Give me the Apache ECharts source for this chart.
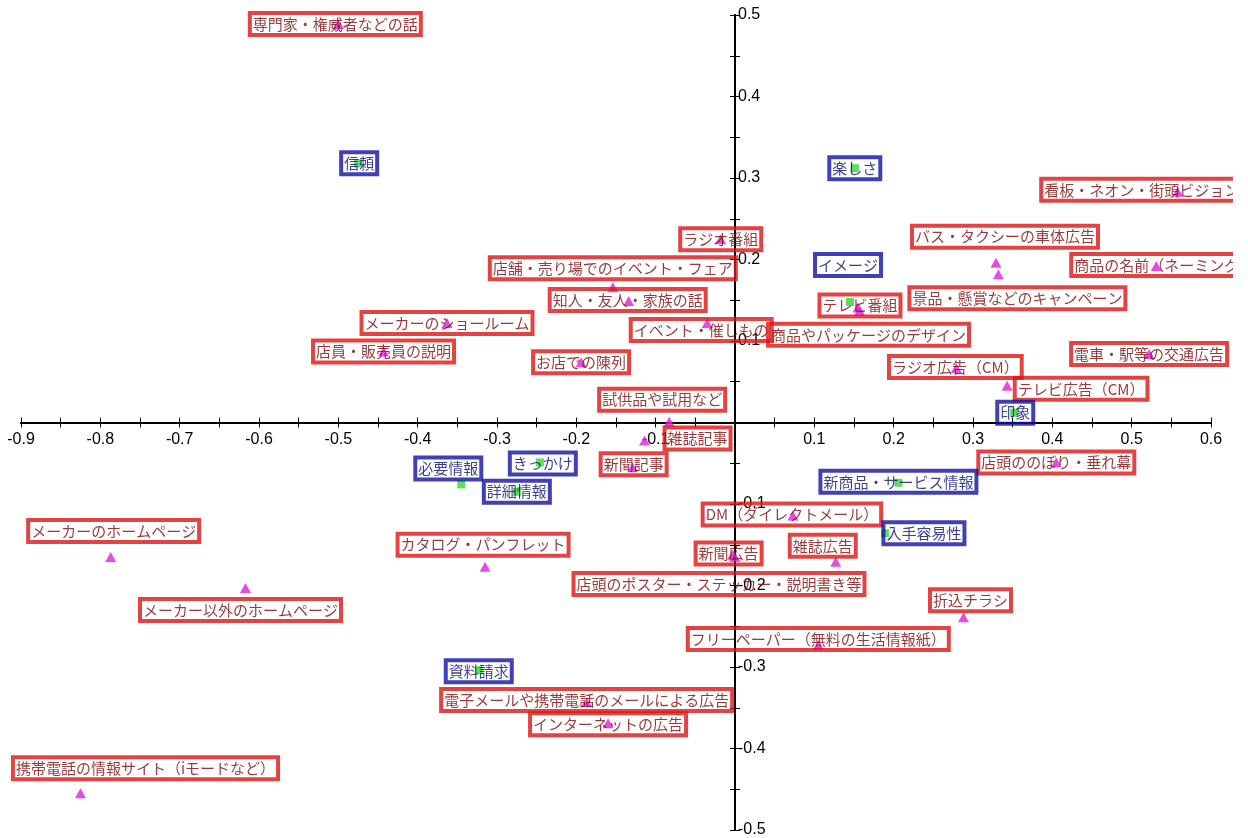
<!DOCTYPE html>
<html>
<head>
<meta charset="utf-8">
<script src="https://cdn.jsdelivr.net/npm/echarts@6/dist/echarts.min.js"></script>
<style>
html,body{margin:0;padding:0;background:#fff;}
#chart{width:1233px;height:838px;overflow:hidden;}
</style>
</head>
<body>
<div id="chart"></div>
<script>
// ---- data: media (magenta triangles) ----
const mediaNames = [
  '専門家・権威者などの話','ラジオ番組','店舗・売り場でのイベント・フェア','知人・友人・家族の話',
  'メーカーのショールーム','店員・販売員の説明','イベント・催しもの','お店での陳列',
  '試供品や試用など','雑誌記事','新聞記事','看板・ネオン・街頭ビジョン等の広告',
  'バス・タクシーの車体広告','景品・懸賞などのキャンペーン','商品の名前（ネーミング）','テレビ番組',
  '商品やパッケージのデザイン','ラジオ広告（CM）','テレビ広告（CM）','電車・駅等の交通広告',
  '店頭ののぼり・垂れ幕','DM（ダイレクトメール）','雑誌広告','新聞広告',
  '店頭のポスター・ステッカー・説明書き等','折込チラシ','フリーペーパー（無料の生活情報紙）','カタログ・パンフレット',
  'メーカーのホームページ','メーカー以外のホームページ','携帯電話の情報サイト（iモードなど）',
  '電子メールや携帯電話のメールによる広告','インターネットの広告'
];
const mediaX = [
  -0.500,-0.018,-0.154,-0.134,
  -0.363,-0.443,-0.035,-0.194,
  -0.083,-0.114,-0.129,0.558,
  0.329,0.332,0.531,0.155,
  0.157,0.279,0.343,0.522,
  0.405,0.073,0.127,-0.003,
  0.000,0.288,0.105,-0.315,
  -0.787,-0.617,-0.825,
  -0.187,-0.160
];
const mediaY = [
  0.489,0.225,0.166,0.149,
  0.122,0.087,0.122,0.074,
  0.001,-0.022,-0.055,0.283,
  0.196,0.182,0.192,0.141,
  0.137,0.067,0.045,0.084,
  -0.049,-0.114,-0.171,-0.162,
  -0.165,-0.239,-0.273,-0.177,
  -0.165,-0.203,-0.455,
  -0.343,-0.369
];
// ---- data: attributes (green squares) ----
const attrNames = ['信頼','楽しさ','イメージ','印象','新商品・サービス情報','入手容易性','必要情報','きっかけ','詳細情報','資料請求'];
const attrX = [-0.475,0.151,0.145,0.352,0.206,0.189,-0.345,-0.246,-0.275,-0.323];
const attrY = [0.318,0.312,0.148,0.012,-0.074,-0.136,-0.076,-0.049,-0.085,-0.304];

// ---- axis ticks ----
const xMin = -0.9, xMax = 0.6, yMin = -0.5, yMax = 0.5, tickStep = 0.1;

// ---- layout only: label offsets (px) relative to each point ----
const mediaLabelOffset = [
  [-3,0],[0,0],[0,-19],[-1,-1],
  [0,0],[0,0],[-6,7],[0,0],
  [-7,-22],[53,-2],[1,-3],[-6,-2],
  [9,-26],[19,24],[8,-1],[2,-2],
  [9,24],[-1,-1],[74,3],[0,0],
  [0,0],[-1,-1],[-13,-16],[-4,-1],
  [-16,27],[7,-17],[0,-6],[-2,-22],
  [3,-26],[-5,22],[65,-25],
  [0,-2],[0,1]
];
const attrLabelOffset = [[1,0],[0,0],[-2,-37],[1,0],[0,-1],[39,0],[-13,-16],[3,1],[0,0],[0,1]];

// ---- layout ----
const W = 1233, H = 838;
const G = {left:21, right:22, top:15, bottom:8};
const plotW = W - G.left - G.right, plotH = H - G.top - G.bottom;
// shift the labelled axes from the grid edge onto the zero lines
const xAxisShift = -plotH * (0 - yMin) / (yMax - yMin);
const yAxisShift = -plotW * (xMax - 0) / (xMax - xMin);

const chart = echarts.init(document.getElementById('chart'), null, {renderer:'canvas'});

function fmt(v){ if (Math.abs(v) < 1e-9) return ''; return String(+v.toFixed(1)); }

const tickStyle = {color:'#000', width:1};
function makeAxis(extra){
  return Object.assign({
    type:'value',
    interval: tickStep,
    splitLine:{show:false},
    axisLine:{show:true, onZero:false, lineStyle:{color:'#000', width:2}},
    axisTick:{show:true, length:5, lineStyle:tickStyle},
    minorTick:{show:true, splitNumber:2, length:5, lineStyle:tickStyle},
    minorSplitLine:{show:false}
  }, extra);
}
const labelFont = {color:'#000', fontSize:16, fontFamily:'"Liberation Sans", Arial, sans-serif', formatter: fmt, hideOverlap:false};

const redLabel = {
  show:true, position:'inside', formatter:'{b}',
  fontSize:15, fontFamily:'"Noto Sans CJK JP", sans-serif', color:'#800808',
  borderColor:'#dc1414', borderWidth:2, padding:[3,3,2,3], lineHeight:17,
  backgroundColor:'rgba(255,255,255,0)'
};
const blueLabel = Object.assign({}, redLabel, {color:'#0c0c78', borderColor:'#1212a0'});

const mediaData = mediaNames.map((n,i)=>({
  name:n, value:[mediaX[i], mediaY[i]],
  label:{offset: mediaLabelOffset[i]}
}));
const attrData = attrNames.map((n,i)=>({
  name:n, value:[attrX[i], attrY[i]],
  label:{offset: attrLabelOffset[i]}
}));

const gridBox = Object.assign({containLabel:false, outerBoundsMode:'none'}, G);

chart.setOption({
  backgroundColor:'#fff',
  animation:false,
  grid:[Object.assign({}, gridBox), Object.assign({}, gridBox)],
  xAxis:[
    makeAxis({gridIndex:0, min:xMin, max:xMax, position:'bottom', offset:xAxisShift,
      axisLabel:Object.assign({show:true, margin:9}, labelFont)}),
    makeAxis({gridIndex:1, min:xMin, max:xMax, position:'bottom', offset:xAxisShift, axisLabel:{show:false},
      axisTick:{show:true, inside:true, length:5, lineStyle:tickStyle},
      minorTick:{show:true, splitNumber:2, length:5, lineStyle:tickStyle}})
  ],
  yAxis:[
    makeAxis({gridIndex:0, min:yMin, max:yMax, position:'right', offset:yAxisShift,
      axisLabel:Object.assign({show:true, margin:3}, labelFont)}),
    makeAxis({gridIndex:1, min:yMin, max:yMax, position:'right', offset:yAxisShift, axisLabel:{show:false},
      axisTick:{show:true, inside:true, length:5, lineStyle:tickStyle},
      minorTick:{show:true, splitNumber:2, length:5, lineStyle:tickStyle}})
  ],
  series:[
    {
      type:'scatter', name:'媒体', xAxisIndex:0, yAxisIndex:0,
      symbol:'triangle', symbolSize:[11,10],
      itemStyle:{color:'#e01ee0'},
      label:redLabel,
      data:mediaData, z:3
    },
    {
      type:'scatter', name:'属性', xAxisIndex:0, yAxisIndex:0,
      symbol:'rect', symbolSize:8,
      itemStyle:{color:'#2ed82e'},
      label:blueLabel,
      data:attrData, z:3
    }
  ]
});
</script>
</body>
</html>
